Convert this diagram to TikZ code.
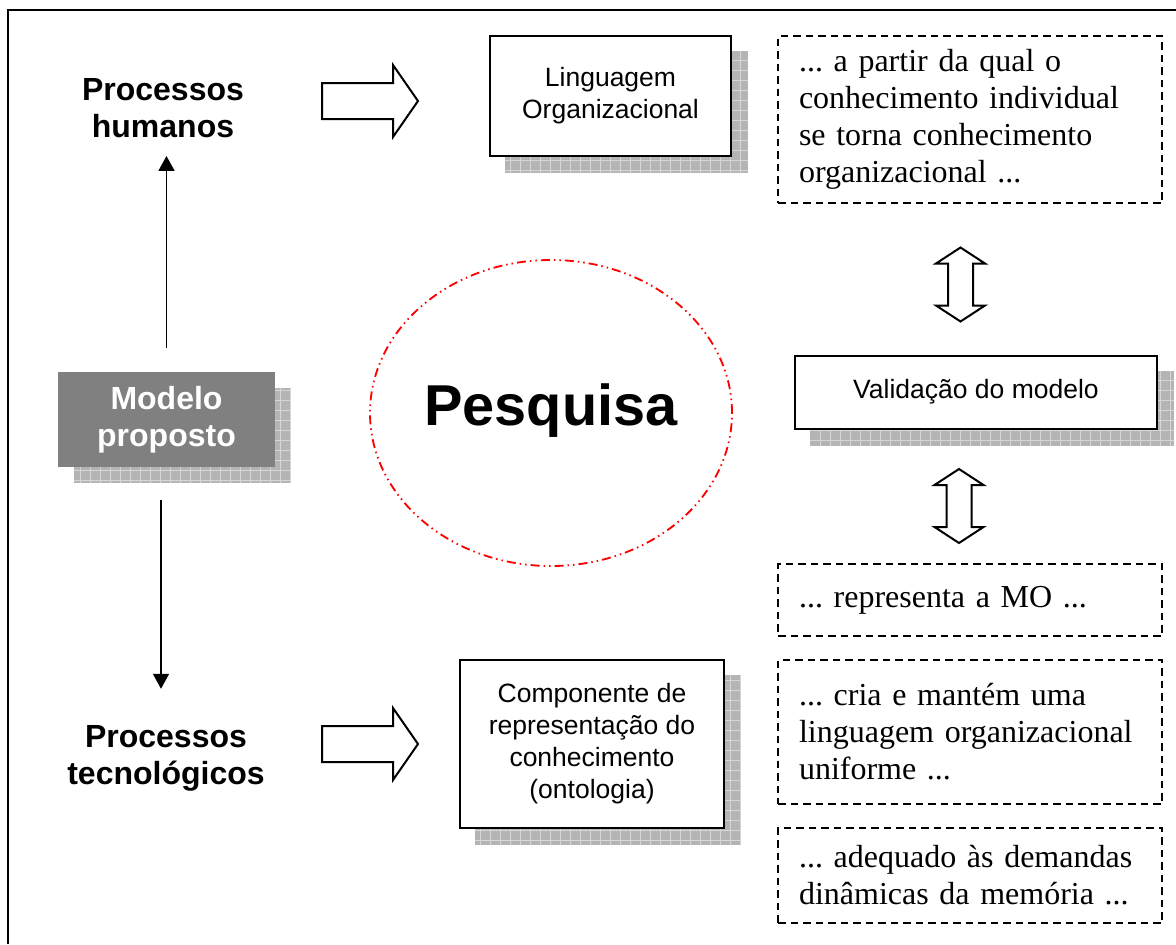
\documentclass[tikz,border=0pt]{standalone}
\usepackage{fontspec}
\setmainfont{Liberation Sans}
\newfontfamily\timesfont{Liberation Serif}
\usetikzlibrary{arrows.meta,backgrounds}
\frenchspacing
\definecolor{shadegray}{HTML}{B4B4B4}
\definecolor{gridgray}{HTML}{D6D6D6}
\definecolor{modelgray}{HTML}{808080}
\definecolor{ringred}{HTML}{FF0000}
\newcommand{\lblfont}{\fontsize{19.2}{22.2}\selectfont\bfseries}
\newcommand{\boxfont}{\fontsize{15.9}{19.2}\selectfont}
\newcommand{\notefont}{\timesfont\fontsize{19.2}{22.2}\selectfont}
\newcommand{\boxshadow}[1]{%
  \fill[shadegray] ([shift={(16,-16)}]#1.north west) rectangle ([shift={(16,-16)}]#1.south east);
  \draw[gridgray,line width=0.3pt,step=10] ([shift={(16,-16)}]#1.north west) grid ([shift={(16,-16)}]#1.south east);}
\tikzset{
  lbl/.style={align=center,inner sep=0pt,font=\lblfont},
  solidbox/.style={draw,line width=1.2pt,fill=white,align=center,font=\boxfont},
  modelbox/.style={fill=modelgray,text=white,align=center,font=\lblfont,minimum width=130.2pt,minimum height=57pt},
  notebox/.style={draw,line width=0.9pt,dash pattern=on 4.5pt off 3pt,align=left,font=\notefont,
    text width=205.2pt,inner xsep=12.6pt,inner ysep=0pt},
  ring/.style={draw=ringred,line width=1.1pt,
    dash pattern=on 5.4pt off 2.4pt on 0.9pt off 2.4pt on 0.9pt off 2.4pt},
  vline/.style={line width=1.1pt,-{Triangle[length=9pt,width=9.6pt]}},
  blk/.style={draw,line width=1.2pt,fill=white,line join=miter},
  rarrow/.pic={\draw[blk] (-48,-18) -- (23,-18) -- (23,-36) -- (48,0) -- (23,36) -- (23,18) -- (-48,18) -- cycle;},
  vdarrow/.pic={\draw[blk] (-12.5,21) -- (-24.5,21) -- (0,37) -- (24.5,21) -- (12.5,21) -- (12.5,-21)
    -- (24.5,-21) -- (0,-37) -- (-24.5,-21) -- (-12.5,-21) -- cycle;}
}

\begin{document}
\begin{tikzpicture}[x=0.6pt,y=0.6pt]
\useasboundingbox (0,0) rectangle (1176,-944);
\draw[line width=1.2pt] (1176,-10) -- (8,-10) -- (8,-944);
% left column
\node[lbl] (humanos) at (163,-108) {Processos\\humanos};
\node[modelbox] (modelo) at (166.5,-419.5) {Modelo\\proposto};
\node[lbl] (tecno) at (166,-758) {Processos\\tecnológicos};
\draw[vline,shorten <=14.4pt,shorten >=10.8pt] (modelo.north) -- (modelo.north |- humanos.south);
\draw[vline,shorten <=19.8pt,shorten >=21.6pt] ([xshift=-3.3pt]modelo.south) -- ([xshift=-3.3pt]modelo.south |- tecno.north);
% middle
\pic at (370,-101) {rarrow};
\pic at (370,-744) {rarrow};
\node[solidbox,minimum width=144.6pt,minimum height=72pt] (ling) at (610.5,-96) {Linguagem\\Organizacional};
\node[solidbox,minimum width=158.4pt,minimum height=100.8pt] (comp) at (592,-744)
  {Componente de\\representação do\\conhecimento\\(ontologia)};
\node[font=\bfseries\fontsize{34.6}{40}\selectfont] (pesq) at (551,-411) {Pesquisa};
\draw[ring] (551,-413) ellipse (181 and 153);
% right column
\node[notebox,minimum height=100.2pt] (n1) at (970,-119.5)
  {... a partir da qual o\\conhecimento individual\\se torna conhecimento\\organizacional ...};
\pic at (960.5,-284.5) {vdarrow};
\node[solidbox,minimum width=217.2pt,minimum height=43.8pt] (valid) at (976,-392) {Validação do modelo};
\pic at (959,-506) {vdarrow};
\node[notebox,minimum height=43.2pt] (n2) at (970,-600) {... representa a MO ...};
\node[notebox,minimum height=86.4pt] (n3) at (970,-732)
  {... cria e mantém uma\\linguagem organizacional\\uniforme ...};
\node[notebox,minimum height=57pt] (n4) at (970,-875.5)
  {... adequado às demandas\\dinâmicas da memória ...};
% shadows
\begin{scope}[on background layer]
\boxshadow{modelo}
\boxshadow{ling}
\boxshadow{comp}
\boxshadow{valid}
\end{scope}
\end{tikzpicture}
\end{document}
